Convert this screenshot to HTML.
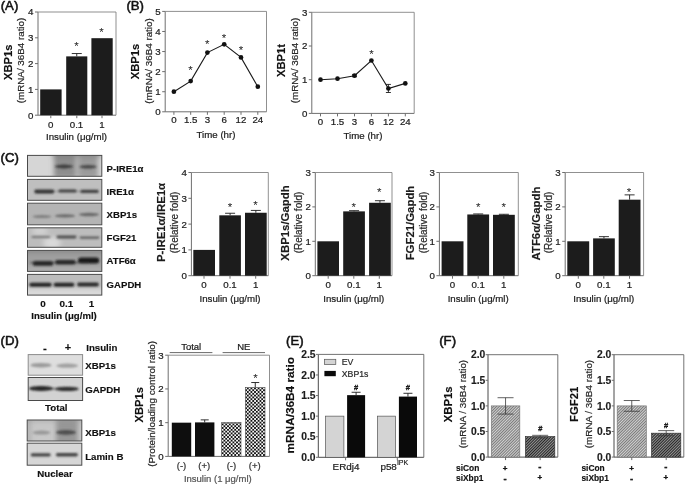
<!DOCTYPE html>
<html><head><meta charset="utf-8"><title>Figure</title>
<style>
html,body{margin:0;padding:0;background:#fff;}
body{width:685px;height:486px;overflow:hidden;font-family:"Liberation Sans",sans-serif;}
svg{display:block;font-family:"Liberation Sans",sans-serif;will-change:transform;opacity:0.9999;}
</style></head><body>
<svg width="685" height="486" viewBox="0 0 685 486">
<defs>
<filter id="blur1" x="-20%" y="-200%" width="140%" height="500%"><feGaussianBlur stdDeviation="1.1 0.8"/></filter>
<filter id="blur3" x="-50%" y="-50%" width="200%" height="200%"><feGaussianBlur stdDeviation="2.5"/></filter>
<pattern id="chk" width="3.6" height="3.6" patternUnits="userSpaceOnUse" x="0.3" y="0.5"><rect width="3.6" height="3.6" fill="#fff"/><rect width="1.85" height="1.85" fill="#111"/><rect x="1.8" y="1.8" width="1.85" height="1.85" fill="#111"/></pattern>
<pattern id="h1" width="2" height="2" patternUnits="userSpaceOnUse" patternTransform="rotate(45)"><rect width="2" height="2" fill="#d2d2d2"/><rect width="1" height="2" fill="#7a7a7a"/></pattern>
<pattern id="h2" width="2" height="2" patternUnits="userSpaceOnUse" patternTransform="rotate(45)"><rect width="2" height="2" fill="#939393"/><rect width="1" height="2" fill="#262626"/></pattern>
</defs>
<rect width="685" height="486" fill="#fff"/>

<text x="0.7" y="10.0" font-size="13.2" font-weight="normal" text-anchor="start" fill="#111" stroke="#111" stroke-width="0.55" stroke-linejoin="round">(A)</text>
<line x1="38" y1="12" x2="38" y2="115.2" stroke="#6e6e6e" stroke-width="1"/>
<line x1="38" y1="115.2" x2="116" y2="115.2" stroke="#6e6e6e" stroke-width="1"/>
<line x1="38" y1="12" x2="116" y2="12" stroke="#7c7c7c" stroke-width="0.85"/>
<line x1="116" y1="12" x2="116" y2="115.2" stroke="#7c7c7c" stroke-width="0.85"/>
<line x1="35" y1="115.2" x2="38" y2="115.2" stroke="#6e6e6e" stroke-width="1"/>
<text x="33.5" y="118.69200000000001" font-size="9.7" font-weight="normal" text-anchor="end" fill="#1c1c1c" stroke="#1c1c1c" stroke-width="0.22">0</text>
<line x1="35" y1="89.4" x2="38" y2="89.4" stroke="#6e6e6e" stroke-width="1"/>
<text x="33.5" y="92.89200000000001" font-size="9.7" font-weight="normal" text-anchor="end" fill="#1c1c1c" stroke="#1c1c1c" stroke-width="0.22">1</text>
<line x1="35" y1="63.6" x2="38" y2="63.6" stroke="#6e6e6e" stroke-width="1"/>
<text x="33.5" y="67.092" font-size="9.7" font-weight="normal" text-anchor="end" fill="#1c1c1c" stroke="#1c1c1c" stroke-width="0.22">2</text>
<line x1="35" y1="37.8" x2="38" y2="37.8" stroke="#6e6e6e" stroke-width="1"/>
<text x="33.5" y="41.291999999999994" font-size="9.7" font-weight="normal" text-anchor="end" fill="#1c1c1c" stroke="#1c1c1c" stroke-width="0.22">3</text>
<line x1="35" y1="12.0" x2="38" y2="12.0" stroke="#6e6e6e" stroke-width="1"/>
<text x="33.5" y="15.491999999999999" font-size="9.7" font-weight="normal" text-anchor="end" fill="#1c1c1c" stroke="#1c1c1c" stroke-width="0.22">4</text>
<rect x="40.20" y="89.40" width="21.40" height="25.80" fill="#1c1c1c" stroke="none" stroke-width="0"/>
<line x1="76.75" y1="53.53800000000001" x2="76.75" y2="56.376000000000005" stroke="#1c1c1c" stroke-width="0.9"/>
<line x1="71.75" y1="53.53800000000001" x2="81.75" y2="53.53800000000001" stroke="#1c1c1c" stroke-width="0.9"/>
<rect x="66.20" y="56.38" width="21.10" height="58.82" fill="#1c1c1c" stroke="none" stroke-width="0"/>
<rect x="91.40" y="38.19" width="21.30" height="77.01" fill="#1c1c1c" stroke="none" stroke-width="0"/>
<line x1="50.8" y1="115.2" x2="50.8" y2="118.2" stroke="#6e6e6e" stroke-width="1"/>
<line x1="76.8" y1="115.2" x2="76.8" y2="118.2" stroke="#6e6e6e" stroke-width="1"/>
<line x1="102" y1="115.2" x2="102" y2="118.2" stroke="#6e6e6e" stroke-width="1"/>
<text x="50.8" y="127.5" font-size="9.7" font-weight="normal" text-anchor="middle" fill="#1c1c1c" stroke="#1c1c1c" stroke-width="0.22">0</text>
<text x="76.5" y="127.5" font-size="9.7" font-weight="normal" text-anchor="middle" fill="#1c1c1c" stroke="#1c1c1c" stroke-width="0.22">0.1</text>
<text x="102" y="127.5" font-size="9.7" font-weight="normal" text-anchor="middle" fill="#1c1c1c" stroke="#1c1c1c" stroke-width="0.22">1</text>
<text x="76.5" y="140.3" font-size="9.7" font-weight="normal" text-anchor="middle" fill="#1c1c1c" stroke="#1c1c1c" stroke-width="0.22">Insulin (μg/ml)</text>
<text x="76.6" y="50.1275" font-size="11.5" font-weight="normal" text-anchor="middle" fill="#222" stroke="none">*</text>
<text x="101.6" y="35.6275" font-size="11.5" font-weight="normal" text-anchor="middle" fill="#222" stroke="none">*</text>
<text x="12.2" y="62.3" font-size="11.2" font-weight="bold" text-anchor="middle" fill="#111" transform="rotate(-90 12.2 62.3)" stroke="#111" stroke-width="0.15">XBP1s</text>
<text x="24.4" y="60.5" font-size="9.8" font-weight="normal" text-anchor="middle" fill="#2a2a2a" transform="rotate(-90 24.4 60.5)" stroke="#2a2a2a" stroke-width="0.22">(mRNA/ 36B4 ratio)</text>
<text x="126.4" y="10.0" font-size="13.2" font-weight="normal" text-anchor="start" fill="#111" stroke="#111" stroke-width="0.55" stroke-linejoin="round">(B)</text>
<line x1="165.2" y1="11.4" x2="165.2" y2="111.8" stroke="#6e6e6e" stroke-width="1"/>
<line x1="165.2" y1="111.8" x2="266.5" y2="111.8" stroke="#6e6e6e" stroke-width="1"/>
<line x1="165.2" y1="11.4" x2="266.5" y2="11.4" stroke="#7c7c7c" stroke-width="0.85"/>
<line x1="266.5" y1="11.4" x2="266.5" y2="111.8" stroke="#7c7c7c" stroke-width="0.85"/>
<line x1="162.2" y1="111.8" x2="165.2" y2="111.8" stroke="#6e6e6e" stroke-width="1"/>
<text x="160.7" y="115.292" font-size="9.7" font-weight="normal" text-anchor="end" fill="#1c1c1c" stroke="#1c1c1c" stroke-width="0.22">0</text>
<line x1="162.2" y1="91.72" x2="165.2" y2="91.72" stroke="#6e6e6e" stroke-width="1"/>
<text x="160.7" y="95.212" font-size="9.7" font-weight="normal" text-anchor="end" fill="#1c1c1c" stroke="#1c1c1c" stroke-width="0.22">1</text>
<line x1="162.2" y1="71.64" x2="165.2" y2="71.64" stroke="#6e6e6e" stroke-width="1"/>
<text x="160.7" y="75.132" font-size="9.7" font-weight="normal" text-anchor="end" fill="#1c1c1c" stroke="#1c1c1c" stroke-width="0.22">2</text>
<line x1="162.2" y1="51.56" x2="165.2" y2="51.56" stroke="#6e6e6e" stroke-width="1"/>
<text x="160.7" y="55.052" font-size="9.7" font-weight="normal" text-anchor="end" fill="#1c1c1c" stroke="#1c1c1c" stroke-width="0.22">3</text>
<line x1="162.2" y1="31.480000000000004" x2="165.2" y2="31.480000000000004" stroke="#6e6e6e" stroke-width="1"/>
<text x="160.7" y="34.972" font-size="9.7" font-weight="normal" text-anchor="end" fill="#1c1c1c" stroke="#1c1c1c" stroke-width="0.22">4</text>
<line x1="162.2" y1="11.400000000000006" x2="165.2" y2="11.400000000000006" stroke="#6e6e6e" stroke-width="1"/>
<text x="160.7" y="14.892000000000005" font-size="9.7" font-weight="normal" text-anchor="end" fill="#1c1c1c" stroke="#1c1c1c" stroke-width="0.22">5</text>
<polyline fill="none" stroke="#1a1a1a" stroke-width="1.1" points="173.9,91.7 190.7,81.1 207.4,52.6 224.2,44.3 241.0,57.4 257.8,86.7"/>
<circle cx="173.9" cy="91.7" r="2.35" fill="#111"/>
<circle cx="190.7" cy="81.1" r="2.35" fill="#111"/>
<circle cx="207.4" cy="52.6" r="2.35" fill="#111"/>
<circle cx="224.2" cy="44.3" r="2.35" fill="#111"/>
<circle cx="241.0" cy="57.4" r="2.35" fill="#111"/>
<circle cx="257.8" cy="86.7" r="2.35" fill="#111"/>
<line x1="173.9" y1="111.8" x2="173.9" y2="114.8" stroke="#6e6e6e" stroke-width="1"/>
<text x="173.9" y="123.2" font-size="9.7" font-weight="normal" text-anchor="middle" fill="#1c1c1c" stroke="#1c1c1c" stroke-width="0.22">0</text>
<line x1="190.7" y1="111.8" x2="190.7" y2="114.8" stroke="#6e6e6e" stroke-width="1"/>
<text x="190.7" y="123.2" font-size="9.7" font-weight="normal" text-anchor="middle" fill="#1c1c1c" stroke="#1c1c1c" stroke-width="0.22">1.5</text>
<line x1="207.4" y1="111.8" x2="207.4" y2="114.8" stroke="#6e6e6e" stroke-width="1"/>
<text x="207.4" y="123.2" font-size="9.7" font-weight="normal" text-anchor="middle" fill="#1c1c1c" stroke="#1c1c1c" stroke-width="0.22">3</text>
<line x1="224.2" y1="111.8" x2="224.2" y2="114.8" stroke="#6e6e6e" stroke-width="1"/>
<text x="224.2" y="123.2" font-size="9.7" font-weight="normal" text-anchor="middle" fill="#1c1c1c" stroke="#1c1c1c" stroke-width="0.22">6</text>
<line x1="241.0" y1="111.8" x2="241.0" y2="114.8" stroke="#6e6e6e" stroke-width="1"/>
<text x="241.0" y="123.2" font-size="9.7" font-weight="normal" text-anchor="middle" fill="#1c1c1c" stroke="#1c1c1c" stroke-width="0.22">12</text>
<line x1="257.8" y1="111.8" x2="257.8" y2="114.8" stroke="#6e6e6e" stroke-width="1"/>
<text x="257.8" y="123.2" font-size="9.7" font-weight="normal" text-anchor="middle" fill="#1c1c1c" stroke="#1c1c1c" stroke-width="0.22">24</text>
<text x="216" y="137.5" font-size="9.7" font-weight="normal" text-anchor="middle" fill="#1c1c1c" stroke="#1c1c1c" stroke-width="0.22">Time (hr)</text>
<text x="190.6" y="73.92750000000001" font-size="11.5" font-weight="normal" text-anchor="middle" fill="#222" stroke="none">*</text>
<text x="207.2" y="47.7275" font-size="11.5" font-weight="normal" text-anchor="middle" fill="#222" stroke="none">*</text>
<text x="224.1" y="42.3275" font-size="11.5" font-weight="normal" text-anchor="middle" fill="#222" stroke="none">*</text>
<text x="241.1" y="53.527499999999996" font-size="11.5" font-weight="normal" text-anchor="middle" fill="#222" stroke="none">*</text>
<text x="139" y="61.5" font-size="11.2" font-weight="bold" text-anchor="middle" fill="#111" transform="rotate(-90 139 61.5)" stroke="#111" stroke-width="0.15">XBP1s</text>
<text x="152" y="61" font-size="9.8" font-weight="normal" text-anchor="middle" fill="#2a2a2a" transform="rotate(-90 152 61)" stroke="#2a2a2a" stroke-width="0.22">(mRNA/ 36B4 ratio)</text>
<line x1="311.8" y1="12.3" x2="311.8" y2="113.4" stroke="#6e6e6e" stroke-width="1"/>
<line x1="311.8" y1="113.4" x2="414.2" y2="113.4" stroke="#6e6e6e" stroke-width="1"/>
<line x1="311.8" y1="12.3" x2="414.2" y2="12.3" stroke="#7c7c7c" stroke-width="0.85"/>
<line x1="414.2" y1="12.3" x2="414.2" y2="113.4" stroke="#7c7c7c" stroke-width="0.85"/>
<line x1="308.8" y1="113.4" x2="311.8" y2="113.4" stroke="#6e6e6e" stroke-width="1"/>
<text x="307.3" y="116.89200000000001" font-size="9.7" font-weight="normal" text-anchor="end" fill="#1c1c1c" stroke="#1c1c1c" stroke-width="0.22">0</text>
<line x1="308.8" y1="79.7" x2="311.8" y2="79.7" stroke="#6e6e6e" stroke-width="1"/>
<text x="307.3" y="83.19200000000001" font-size="9.7" font-weight="normal" text-anchor="end" fill="#1c1c1c" stroke="#1c1c1c" stroke-width="0.22">1</text>
<line x1="308.8" y1="46.0" x2="311.8" y2="46.0" stroke="#6e6e6e" stroke-width="1"/>
<text x="307.3" y="49.492" font-size="9.7" font-weight="normal" text-anchor="end" fill="#1c1c1c" stroke="#1c1c1c" stroke-width="0.22">2</text>
<line x1="308.8" y1="12.299999999999997" x2="311.8" y2="12.299999999999997" stroke="#6e6e6e" stroke-width="1"/>
<text x="307.3" y="15.791999999999996" font-size="9.7" font-weight="normal" text-anchor="end" fill="#1c1c1c" stroke="#1c1c1c" stroke-width="0.22">3</text>
<polyline fill="none" stroke="#1a1a1a" stroke-width="1.1" points="320.5,79.7 337.5,78.7 354.5,75.7 371.4,60.5 388.4,88.5 405.3,83.4"/>
<line x1="388.4" y1="84.418" x2="388.4" y2="92.506" stroke="#1c1c1c" stroke-width="0.9"/>
<line x1="385.9" y1="84.418" x2="390.9" y2="84.418" stroke="#1c1c1c" stroke-width="0.9"/>
<line x1="385.9" y1="92.506" x2="390.9" y2="92.506" stroke="#1c1c1c" stroke-width="0.9"/>
<line x1="354.5" y1="74.64500000000001" x2="354.5" y2="76.667" stroke="#1c1c1c" stroke-width="0.9"/>
<line x1="352.0" y1="74.64500000000001" x2="357.0" y2="74.64500000000001" stroke="#1c1c1c" stroke-width="0.9"/>
<line x1="352.0" y1="76.667" x2="357.0" y2="76.667" stroke="#1c1c1c" stroke-width="0.9"/>
<circle cx="320.5" cy="79.7" r="2.35" fill="#111"/>
<circle cx="337.5" cy="78.7" r="2.35" fill="#111"/>
<circle cx="354.5" cy="75.7" r="2.35" fill="#111"/>
<circle cx="371.4" cy="60.5" r="2.35" fill="#111"/>
<circle cx="388.4" cy="88.5" r="2.35" fill="#111"/>
<circle cx="405.3" cy="83.4" r="2.35" fill="#111"/>
<line x1="320.5" y1="113.4" x2="320.5" y2="116.4" stroke="#6e6e6e" stroke-width="1"/>
<text x="320.5" y="125" font-size="9.7" font-weight="normal" text-anchor="middle" fill="#1c1c1c" stroke="#1c1c1c" stroke-width="0.22">0</text>
<line x1="337.5" y1="113.4" x2="337.5" y2="116.4" stroke="#6e6e6e" stroke-width="1"/>
<text x="337.5" y="125" font-size="9.7" font-weight="normal" text-anchor="middle" fill="#1c1c1c" stroke="#1c1c1c" stroke-width="0.22">1.5</text>
<line x1="354.5" y1="113.4" x2="354.5" y2="116.4" stroke="#6e6e6e" stroke-width="1"/>
<text x="354.5" y="125" font-size="9.7" font-weight="normal" text-anchor="middle" fill="#1c1c1c" stroke="#1c1c1c" stroke-width="0.22">3</text>
<line x1="371.4" y1="113.4" x2="371.4" y2="116.4" stroke="#6e6e6e" stroke-width="1"/>
<text x="371.4" y="125" font-size="9.7" font-weight="normal" text-anchor="middle" fill="#1c1c1c" stroke="#1c1c1c" stroke-width="0.22">6</text>
<line x1="388.4" y1="113.4" x2="388.4" y2="116.4" stroke="#6e6e6e" stroke-width="1"/>
<text x="388.4" y="125" font-size="9.7" font-weight="normal" text-anchor="middle" fill="#1c1c1c" stroke="#1c1c1c" stroke-width="0.22">12</text>
<line x1="405.3" y1="113.4" x2="405.3" y2="116.4" stroke="#6e6e6e" stroke-width="1"/>
<text x="405.3" y="125" font-size="9.7" font-weight="normal" text-anchor="middle" fill="#1c1c1c" stroke="#1c1c1c" stroke-width="0.22">24</text>
<text x="363" y="139.2" font-size="9.7" font-weight="normal" text-anchor="middle" fill="#1c1c1c" stroke="#1c1c1c" stroke-width="0.22">Time (hr)</text>
<text x="371.4" y="58.3275" font-size="11.5" font-weight="normal" text-anchor="middle" fill="#222" stroke="none">*</text>
<text x="284.5" y="60.5" font-size="11.2" font-weight="bold" text-anchor="middle" fill="#111" transform="rotate(-90 284.5 60.5)" stroke="#111" stroke-width="0.15">XBP1t</text>
<text x="297.5" y="60.5" font-size="9.8" font-weight="normal" text-anchor="middle" fill="#2a2a2a" transform="rotate(-90 297.5 60.5)" stroke="#2a2a2a" stroke-width="0.22">(mRNA/ 36B4 ratio)</text>
<text x="0.5" y="162.3" font-size="13.2" font-weight="normal" text-anchor="start" fill="#111" stroke="#111" stroke-width="0.55" stroke-linejoin="round">(C)</text>
<clipPath id="cp1"><rect x="27.5" y="155.4" width="74.3" height="20.9"/></clipPath>
<g clip-path="url(#cp1)">
<rect x="27.5" y="155.4" width="74.3" height="20.9" fill="#d6d6d6"/>
<g filter="url(#blur3)"><rect x="54" y="148" width="22" height="30" fill="#858585" opacity="0.9"/><rect x="78" y="148" width="20" height="30" fill="#8f8f8f" opacity="0.85"/><rect x="52" y="150" width="50" height="7" fill="#777" opacity="0.5"/></g>
<g filter="url(#blur1)">
<ellipse cx="64" cy="166.5" rx="9" ry="1.9" fill="#333" opacity="0.85"/>
<ellipse cx="88" cy="166.7" rx="8.5" ry="1.8" fill="#333" opacity="0.8"/>
</g></g>
<rect x="27.5" y="155.4" width="74.3" height="20.9" fill="none" stroke="#4a4a4a" stroke-width="1"/>
<clipPath id="cp2"><rect x="27.5" y="179.4" width="74.3" height="20.9"/></clipPath>
<g clip-path="url(#cp2)">
<rect x="27.5" y="179.4" width="74.3" height="20.9" fill="#bfbfbf"/>

<g filter="url(#blur1)">
<rect x="34.3" y="189.4" width="20" height="4.2" rx="2.1" ry="2.1" fill="#222" opacity="0.93"/>
<rect x="58.3" y="189.5" width="18.4" height="3.0" rx="1.5" ry="1.5" fill="#2a2a2a" opacity="0.88"/>
<rect x="80.3" y="189.8" width="18.4" height="3.2" rx="1.6" ry="1.6" fill="#2a2a2a" opacity="0.88"/>
<rect x="36" y="190.70000000000002" width="60" height="1.2" rx="0.6" ry="0.6" fill="#555" opacity="0.4"/>
</g></g>
<rect x="27.5" y="179.4" width="74.3" height="20.9" fill="none" stroke="#4a4a4a" stroke-width="1"/>
<clipPath id="cp3"><rect x="27.5" y="203.2" width="74.3" height="21.6"/></clipPath>
<g clip-path="url(#cp3)">
<rect x="27.5" y="203.2" width="74.3" height="21.6" fill="#b4b4b4"/>

<g filter="url(#blur1)">
<ellipse cx="42" cy="216.6" rx="9.5" ry="1.5" fill="#5a5a5a" opacity="0.6"/>
<ellipse cx="65" cy="215.9" rx="10" ry="1.7" fill="#4a4a4a" opacity="0.7"/>
<ellipse cx="89" cy="214.5" rx="10" ry="1.8" fill="#4a4a4a" opacity="0.7"/>
</g></g>
<rect x="27.5" y="203.2" width="74.3" height="21.6" fill="none" stroke="#4a4a4a" stroke-width="1"/>
<clipPath id="cp4"><rect x="27.5" y="227.8" width="74.3" height="19.5"/></clipPath>
<g clip-path="url(#cp4)">
<rect x="27.5" y="227.8" width="74.3" height="19.5" fill="#bdbdbd"/>
<g filter="url(#blur3)"><ellipse cx="52" cy="243" rx="9" ry="6" fill="#e2e2e2" opacity="0.8"/><ellipse cx="40" cy="231" rx="8" ry="4" fill="#ddd" opacity="0.7"/></g>
<g filter="url(#blur1)">
<rect x="31.5" y="235.9" width="19.0" height="2.2" rx="1.1" ry="1.1" fill="#555" opacity="0.7"/>
<rect x="56.5" y="235.6" width="20" height="2.8" rx="1.4" ry="1.4" fill="#333" opacity="0.8"/>
<rect x="79.7" y="236.4" width="19.6" height="2.4" rx="1.2" ry="1.2" fill="#3a3a3a" opacity="0.75"/>
</g></g>
<rect x="27.5" y="227.8" width="74.3" height="19.5" fill="none" stroke="#4a4a4a" stroke-width="1"/>
<clipPath id="cp5"><rect x="27.5" y="250.4" width="74.3" height="21"/></clipPath>
<g clip-path="url(#cp5)">
<rect x="27.5" y="250.4" width="74.3" height="21" fill="#a0a0a0"/>
<g filter="url(#blur3)"><rect x="20" y="247" width="90" height="6" fill="#808080" opacity="0.7"/><rect x="20" y="267" width="90" height="8" fill="#b4b4b4" opacity="0.7"/></g>
<g filter="url(#blur1)">
<rect x="32.8" y="261.09999999999997" width="20.4" height="4.6" rx="2.3" ry="2.3" fill="#1a1a1a" opacity="0.95"/>
<rect x="55.2" y="259.9" width="20.4" height="4.6" rx="2.3" ry="2.3" fill="#1a1a1a" opacity="0.95"/>
<rect x="78.0" y="257.4" width="21.2" height="6.0" rx="3.0" ry="3.0" fill="#161616" opacity="0.97"/>
<rect x="30" y="261.70000000000005" width="60" height="1.8" rx="0.9" ry="0.9" fill="#333" opacity="0.6"/>
</g></g>
<rect x="27.5" y="250.4" width="74.3" height="21" fill="none" stroke="#4a4a4a" stroke-width="1"/>
<clipPath id="cp6"><rect x="27.5" y="274.4" width="74.3" height="20.7"/></clipPath>
<g clip-path="url(#cp6)">
<rect x="27.5" y="274.4" width="74.3" height="20.7" fill="#bdbdbd"/>
<g filter="url(#blur3)"><rect x="20" y="288.5" width="90" height="10" fill="#dedede" opacity="0.9"/></g>
<g filter="url(#blur1)">
<rect x="29.3" y="282.8" width="22.4" height="4.0" rx="2.0" ry="2.0" fill="#1f1f1f" opacity="0.95"/>
<rect x="53.6" y="282.8" width="20.8" height="4.0" rx="2.0" ry="2.0" fill="#1f1f1f" opacity="0.95"/>
<rect x="77.2" y="282.6" width="21.6" height="3.8" rx="1.9" ry="1.9" fill="#222" opacity="0.95"/>
</g></g>
<rect x="27.5" y="274.4" width="74.3" height="20.7" fill="none" stroke="#4a4a4a" stroke-width="1"/>
<text x="106.6" y="171.9" font-size="9.6" font-weight="bold" text-anchor="start" fill="#111" stroke="#111" stroke-width="0.15">P-IRE1α</text>
<text x="106.6" y="195.3" font-size="9.6" font-weight="bold" text-anchor="start" fill="#111" stroke="#111" stroke-width="0.15">IRE1α</text>
<text x="106.6" y="218.4" font-size="9.6" font-weight="bold" text-anchor="start" fill="#111" stroke="#111" stroke-width="0.15">XBP1s</text>
<text x="106.6" y="241.4" font-size="9.6" font-weight="bold" text-anchor="start" fill="#111" stroke="#111" stroke-width="0.15">FGF21</text>
<text x="106.6" y="264.4" font-size="9.6" font-weight="bold" text-anchor="start" fill="#111" stroke="#111" stroke-width="0.15">ATF6α</text>
<text x="106.6" y="287.6" font-size="9.6" font-weight="bold" text-anchor="start" fill="#111" stroke="#111" stroke-width="0.15">GAPDH</text>
<text x="43" y="307.4" font-size="9.9" font-weight="bold" text-anchor="middle" fill="#111" stroke="#111" stroke-width="0.15">0</text>
<text x="66.3" y="307.4" font-size="9.9" font-weight="bold" text-anchor="middle" fill="#111" stroke="#111" stroke-width="0.15">0.1</text>
<text x="91.5" y="307.4" font-size="9.9" font-weight="bold" text-anchor="middle" fill="#111" stroke="#111" stroke-width="0.15">1</text>
<text x="64" y="319" font-size="9.6" font-weight="bold" text-anchor="middle" fill="#111" stroke="#111" stroke-width="0.15">Insulin (μg/ml)</text>
<line x1="191.4" y1="172.5" x2="191.4" y2="275.7" stroke="#6e6e6e" stroke-width="1"/>
<line x1="191.4" y1="275.7" x2="268.3" y2="275.7" stroke="#6e6e6e" stroke-width="1"/>
<line x1="191.4" y1="172.5" x2="268.3" y2="172.5" stroke="#7c7c7c" stroke-width="0.85"/>
<line x1="268.3" y1="172.5" x2="268.3" y2="275.7" stroke="#7c7c7c" stroke-width="0.85"/>
<line x1="188.4" y1="275.7" x2="191.4" y2="275.7" stroke="#6e6e6e" stroke-width="1"/>
<text x="186.9" y="279.192" font-size="9.7" font-weight="normal" text-anchor="end" fill="#1c1c1c" stroke="#1c1c1c" stroke-width="0.22">0</text>
<line x1="188.4" y1="249.89999999999998" x2="191.4" y2="249.89999999999998" stroke="#6e6e6e" stroke-width="1"/>
<text x="186.9" y="253.39199999999997" font-size="9.7" font-weight="normal" text-anchor="end" fill="#1c1c1c" stroke="#1c1c1c" stroke-width="0.22">1</text>
<line x1="188.4" y1="224.1" x2="191.4" y2="224.1" stroke="#6e6e6e" stroke-width="1"/>
<text x="186.9" y="227.59199999999998" font-size="9.7" font-weight="normal" text-anchor="end" fill="#1c1c1c" stroke="#1c1c1c" stroke-width="0.22">2</text>
<line x1="188.4" y1="198.3" x2="191.4" y2="198.3" stroke="#6e6e6e" stroke-width="1"/>
<text x="186.9" y="201.792" font-size="9.7" font-weight="normal" text-anchor="end" fill="#1c1c1c" stroke="#1c1c1c" stroke-width="0.22">3</text>
<line x1="188.4" y1="172.5" x2="191.4" y2="172.5" stroke="#6e6e6e" stroke-width="1"/>
<text x="186.9" y="175.992" font-size="9.7" font-weight="normal" text-anchor="end" fill="#1c1c1c" stroke="#1c1c1c" stroke-width="0.22">4</text>
<rect x="193.30" y="249.90" width="21.70" height="25.80" fill="#1c1c1c" stroke="none" stroke-width="0"/>
<line x1="230.10000000000002" y1="213.264" x2="230.10000000000002" y2="215.328" stroke="#1c1c1c" stroke-width="0.9"/>
<line x1="225.10000000000002" y1="213.264" x2="235.10000000000002" y2="213.264" stroke="#1c1c1c" stroke-width="0.9"/>
<rect x="219.30" y="215.33" width="21.60" height="60.37" fill="#1c1c1c" stroke="none" stroke-width="0"/>
<line x1="255.85" y1="210.426" x2="255.85" y2="212.748" stroke="#1c1c1c" stroke-width="0.9"/>
<line x1="250.85" y1="210.426" x2="260.85" y2="210.426" stroke="#1c1c1c" stroke-width="0.9"/>
<rect x="245.00" y="212.75" width="21.70" height="62.95" fill="#1c1c1c" stroke="none" stroke-width="0"/>
<line x1="204" y1="275.7" x2="204" y2="278.7" stroke="#6e6e6e" stroke-width="1"/>
<text x="204" y="287.9" font-size="9.7" font-weight="normal" text-anchor="middle" fill="#1c1c1c" stroke="#1c1c1c" stroke-width="0.22">0</text>
<line x1="230" y1="275.7" x2="230" y2="278.7" stroke="#6e6e6e" stroke-width="1"/>
<text x="230" y="287.9" font-size="9.7" font-weight="normal" text-anchor="middle" fill="#1c1c1c" stroke="#1c1c1c" stroke-width="0.22">0.1</text>
<line x1="255.7" y1="275.7" x2="255.7" y2="278.7" stroke="#6e6e6e" stroke-width="1"/>
<text x="255.7" y="287.9" font-size="9.7" font-weight="normal" text-anchor="middle" fill="#1c1c1c" stroke="#1c1c1c" stroke-width="0.22">1</text>
<text x="230" y="301.6" font-size="9.7" font-weight="normal" text-anchor="middle" fill="#1c1c1c" stroke="#1c1c1c" stroke-width="0.22">Insulin (μg/ml)</text>
<text x="230" y="210.7275" font-size="11.5" font-weight="normal" text-anchor="middle" fill="#222" stroke="none">*</text>
<text x="255.6" y="208.7275" font-size="11.5" font-weight="normal" text-anchor="middle" fill="#222" stroke="none">*</text>
<text x="165.4" y="222.5" font-size="11.4" font-weight="bold" text-anchor="middle" fill="#1c1c1c" transform="rotate(-90 165.4 222.5)" stroke="#1c1c1c" stroke-width="0.15">P-IRE1α/IRE1α</text>
<text x="177.6" y="222.5" font-size="10" font-weight="normal" text-anchor="middle" fill="#2a2a2a" transform="rotate(-90 177.6 222.5)" stroke="#2a2a2a" stroke-width="0.22">(Relative fold)</text>
<line x1="315.3" y1="172.5" x2="315.3" y2="275.7" stroke="#6e6e6e" stroke-width="1"/>
<line x1="315.3" y1="275.7" x2="392.0" y2="275.7" stroke="#6e6e6e" stroke-width="1"/>
<line x1="315.3" y1="172.5" x2="392.0" y2="172.5" stroke="#7c7c7c" stroke-width="0.85"/>
<line x1="392.0" y1="172.5" x2="392.0" y2="275.7" stroke="#7c7c7c" stroke-width="0.85"/>
<line x1="312.3" y1="275.7" x2="315.3" y2="275.7" stroke="#6e6e6e" stroke-width="1"/>
<text x="310.8" y="279.192" font-size="9.7" font-weight="normal" text-anchor="end" fill="#1c1c1c" stroke="#1c1c1c" stroke-width="0.22">0</text>
<line x1="312.3" y1="241.29999999999998" x2="315.3" y2="241.29999999999998" stroke="#6e6e6e" stroke-width="1"/>
<text x="310.8" y="244.79199999999997" font-size="9.7" font-weight="normal" text-anchor="end" fill="#1c1c1c" stroke="#1c1c1c" stroke-width="0.22">1</text>
<line x1="312.3" y1="206.89999999999998" x2="315.3" y2="206.89999999999998" stroke="#6e6e6e" stroke-width="1"/>
<text x="310.8" y="210.39199999999997" font-size="9.7" font-weight="normal" text-anchor="end" fill="#1c1c1c" stroke="#1c1c1c" stroke-width="0.22">2</text>
<line x1="312.3" y1="172.5" x2="315.3" y2="172.5" stroke="#6e6e6e" stroke-width="1"/>
<text x="310.8" y="175.992" font-size="9.7" font-weight="normal" text-anchor="end" fill="#1c1c1c" stroke="#1c1c1c" stroke-width="0.22">3</text>
<rect x="317.40" y="241.30" width="21.60" height="34.40" fill="#1c1c1c" stroke="none" stroke-width="0"/>
<line x1="354.04999999999995" y1="210.68399999999997" x2="354.04999999999995" y2="211.37199999999999" stroke="#1c1c1c" stroke-width="0.9"/>
<line x1="349.04999999999995" y1="210.68399999999997" x2="359.04999999999995" y2="210.68399999999997" stroke="#1c1c1c" stroke-width="0.9"/>
<rect x="343.20" y="211.37" width="21.70" height="64.33" fill="#1c1c1c" stroke="none" stroke-width="0"/>
<line x1="379.95000000000005" y1="200.70799999999997" x2="379.95000000000005" y2="202.772" stroke="#1c1c1c" stroke-width="0.9"/>
<line x1="374.95000000000005" y1="200.70799999999997" x2="384.95000000000005" y2="200.70799999999997" stroke="#1c1c1c" stroke-width="0.9"/>
<rect x="369.10" y="202.77" width="21.70" height="72.93" fill="#1c1c1c" stroke="none" stroke-width="0"/>
<line x1="328.2" y1="275.7" x2="328.2" y2="278.7" stroke="#6e6e6e" stroke-width="1"/>
<text x="328.2" y="287.9" font-size="9.7" font-weight="normal" text-anchor="middle" fill="#1c1c1c" stroke="#1c1c1c" stroke-width="0.22">0</text>
<line x1="353.8" y1="275.7" x2="353.8" y2="278.7" stroke="#6e6e6e" stroke-width="1"/>
<text x="353.8" y="287.9" font-size="9.7" font-weight="normal" text-anchor="middle" fill="#1c1c1c" stroke="#1c1c1c" stroke-width="0.22">0.1</text>
<line x1="379.3" y1="275.7" x2="379.3" y2="278.7" stroke="#6e6e6e" stroke-width="1"/>
<text x="379.3" y="287.9" font-size="9.7" font-weight="normal" text-anchor="middle" fill="#1c1c1c" stroke="#1c1c1c" stroke-width="0.22">1</text>
<text x="353.8" y="301.6" font-size="9.7" font-weight="normal" text-anchor="middle" fill="#1c1c1c" stroke="#1c1c1c" stroke-width="0.22">Insulin (μg/ml)</text>
<text x="353.8" y="210.7275" font-size="11.5" font-weight="normal" text-anchor="middle" fill="#222" stroke="none">*</text>
<text x="379.2" y="196.1275" font-size="11.5" font-weight="normal" text-anchor="middle" fill="#222" stroke="none">*</text>
<text x="288.5" y="223" font-size="11.4" font-weight="bold" text-anchor="middle" fill="#1c1c1c" transform="rotate(-90 288.5 223)" stroke="#1c1c1c" stroke-width="0.15">XBP1s/Gapdh</text>
<text x="301.6" y="222.5" font-size="10" font-weight="normal" text-anchor="middle" fill="#2a2a2a" transform="rotate(-90 301.6 222.5)" stroke="#2a2a2a" stroke-width="0.22">(Relative fold)</text>
<line x1="439.4" y1="172.5" x2="439.4" y2="275.7" stroke="#6e6e6e" stroke-width="1"/>
<line x1="439.4" y1="275.7" x2="518.3" y2="275.7" stroke="#6e6e6e" stroke-width="1"/>
<line x1="439.4" y1="172.5" x2="518.3" y2="172.5" stroke="#7c7c7c" stroke-width="0.85"/>
<line x1="518.3" y1="172.5" x2="518.3" y2="275.7" stroke="#7c7c7c" stroke-width="0.85"/>
<line x1="436.4" y1="275.7" x2="439.4" y2="275.7" stroke="#6e6e6e" stroke-width="1"/>
<text x="434.9" y="279.192" font-size="9.7" font-weight="normal" text-anchor="end" fill="#1c1c1c" stroke="#1c1c1c" stroke-width="0.22">0</text>
<line x1="436.4" y1="241.29999999999998" x2="439.4" y2="241.29999999999998" stroke="#6e6e6e" stroke-width="1"/>
<text x="434.9" y="244.79199999999997" font-size="9.7" font-weight="normal" text-anchor="end" fill="#1c1c1c" stroke="#1c1c1c" stroke-width="0.22">1</text>
<line x1="436.4" y1="206.89999999999998" x2="439.4" y2="206.89999999999998" stroke="#6e6e6e" stroke-width="1"/>
<text x="434.9" y="210.39199999999997" font-size="9.7" font-weight="normal" text-anchor="end" fill="#1c1c1c" stroke="#1c1c1c" stroke-width="0.22">2</text>
<line x1="436.4" y1="172.5" x2="439.4" y2="172.5" stroke="#6e6e6e" stroke-width="1"/>
<text x="434.9" y="175.992" font-size="9.7" font-weight="normal" text-anchor="end" fill="#1c1c1c" stroke="#1c1c1c" stroke-width="0.22">3</text>
<rect x="441.60" y="241.30" width="21.90" height="34.40" fill="#1c1c1c" stroke="none" stroke-width="0"/>
<line x1="478.20000000000005" y1="213.952" x2="478.20000000000005" y2="214.468" stroke="#1c1c1c" stroke-width="0.9"/>
<line x1="473.20000000000005" y1="213.952" x2="483.20000000000005" y2="213.952" stroke="#1c1c1c" stroke-width="0.9"/>
<rect x="467.30" y="214.47" width="21.80" height="61.23" fill="#1c1c1c" stroke="none" stroke-width="0"/>
<line x1="503.9" y1="214.296" x2="503.9" y2="214.81199999999998" stroke="#1c1c1c" stroke-width="0.9"/>
<line x1="498.9" y1="214.296" x2="508.9" y2="214.296" stroke="#1c1c1c" stroke-width="0.9"/>
<rect x="493.00" y="214.81" width="21.80" height="60.89" fill="#1c1c1c" stroke="none" stroke-width="0"/>
<line x1="452.5" y1="275.7" x2="452.5" y2="278.7" stroke="#6e6e6e" stroke-width="1"/>
<text x="452.5" y="287.9" font-size="9.7" font-weight="normal" text-anchor="middle" fill="#1c1c1c" stroke="#1c1c1c" stroke-width="0.22">0</text>
<line x1="478.2" y1="275.7" x2="478.2" y2="278.7" stroke="#6e6e6e" stroke-width="1"/>
<text x="478.2" y="287.9" font-size="9.7" font-weight="normal" text-anchor="middle" fill="#1c1c1c" stroke="#1c1c1c" stroke-width="0.22">0.1</text>
<line x1="503.8" y1="275.7" x2="503.8" y2="278.7" stroke="#6e6e6e" stroke-width="1"/>
<text x="503.8" y="287.9" font-size="9.7" font-weight="normal" text-anchor="middle" fill="#1c1c1c" stroke="#1c1c1c" stroke-width="0.22">1</text>
<text x="478.2" y="301.6" font-size="9.7" font-weight="normal" text-anchor="middle" fill="#1c1c1c" stroke="#1c1c1c" stroke-width="0.22">Insulin (μg/ml)</text>
<text x="478.2" y="210.7275" font-size="11.5" font-weight="normal" text-anchor="middle" fill="#222" stroke="none">*</text>
<text x="503.8" y="210.7275" font-size="11.5" font-weight="normal" text-anchor="middle" fill="#222" stroke="none">*</text>
<text x="414.3" y="223" font-size="11.4" font-weight="bold" text-anchor="middle" fill="#1c1c1c" transform="rotate(-90 414.3 223)" stroke="#1c1c1c" stroke-width="0.15">FGF21/Gapdh</text>
<text x="427.2" y="222.5" font-size="10" font-weight="normal" text-anchor="middle" fill="#2a2a2a" transform="rotate(-90 427.2 222.5)" stroke="#2a2a2a" stroke-width="0.22">(Relative fold)</text>
<line x1="565.2" y1="172.5" x2="565.2" y2="275.7" stroke="#6e6e6e" stroke-width="1"/>
<line x1="565.2" y1="275.7" x2="643.6" y2="275.7" stroke="#6e6e6e" stroke-width="1"/>
<line x1="565.2" y1="172.5" x2="643.6" y2="172.5" stroke="#7c7c7c" stroke-width="0.85"/>
<line x1="643.6" y1="172.5" x2="643.6" y2="275.7" stroke="#7c7c7c" stroke-width="0.85"/>
<line x1="562.2" y1="275.7" x2="565.2" y2="275.7" stroke="#6e6e6e" stroke-width="1"/>
<text x="560.7" y="279.192" font-size="9.7" font-weight="normal" text-anchor="end" fill="#1c1c1c" stroke="#1c1c1c" stroke-width="0.22">0</text>
<line x1="562.2" y1="241.29999999999998" x2="565.2" y2="241.29999999999998" stroke="#6e6e6e" stroke-width="1"/>
<text x="560.7" y="244.79199999999997" font-size="9.7" font-weight="normal" text-anchor="end" fill="#1c1c1c" stroke="#1c1c1c" stroke-width="0.22">1</text>
<line x1="562.2" y1="206.89999999999998" x2="565.2" y2="206.89999999999998" stroke="#6e6e6e" stroke-width="1"/>
<text x="560.7" y="210.39199999999997" font-size="9.7" font-weight="normal" text-anchor="end" fill="#1c1c1c" stroke="#1c1c1c" stroke-width="0.22">2</text>
<line x1="562.2" y1="172.5" x2="565.2" y2="172.5" stroke="#6e6e6e" stroke-width="1"/>
<text x="560.7" y="175.992" font-size="9.7" font-weight="normal" text-anchor="end" fill="#1c1c1c" stroke="#1c1c1c" stroke-width="0.22">3</text>
<rect x="567.30" y="241.30" width="21.90" height="34.40" fill="#1c1c1c" stroke="none" stroke-width="0"/>
<line x1="603.95" y1="236.656" x2="603.95" y2="238.37599999999998" stroke="#1c1c1c" stroke-width="0.9"/>
<line x1="598.95" y1="236.656" x2="608.95" y2="236.656" stroke="#1c1c1c" stroke-width="0.9"/>
<rect x="593.10" y="238.38" width="21.70" height="37.32" fill="#1c1c1c" stroke="none" stroke-width="0"/>
<line x1="629.6" y1="194.85999999999999" x2="629.6" y2="199.676" stroke="#1c1c1c" stroke-width="0.9"/>
<line x1="624.6" y1="194.85999999999999" x2="634.6" y2="194.85999999999999" stroke="#1c1c1c" stroke-width="0.9"/>
<rect x="618.70" y="199.68" width="21.80" height="76.02" fill="#1c1c1c" stroke="none" stroke-width="0"/>
<line x1="578.3" y1="275.7" x2="578.3" y2="278.7" stroke="#6e6e6e" stroke-width="1"/>
<text x="578.3" y="287.9" font-size="9.7" font-weight="normal" text-anchor="middle" fill="#1c1c1c" stroke="#1c1c1c" stroke-width="0.22">0</text>
<line x1="603.8" y1="275.7" x2="603.8" y2="278.7" stroke="#6e6e6e" stroke-width="1"/>
<text x="603.8" y="287.9" font-size="9.7" font-weight="normal" text-anchor="middle" fill="#1c1c1c" stroke="#1c1c1c" stroke-width="0.22">0.1</text>
<line x1="629.5" y1="275.7" x2="629.5" y2="278.7" stroke="#6e6e6e" stroke-width="1"/>
<text x="629.5" y="287.9" font-size="9.7" font-weight="normal" text-anchor="middle" fill="#1c1c1c" stroke="#1c1c1c" stroke-width="0.22">1</text>
<text x="603.8" y="301.6" font-size="9.7" font-weight="normal" text-anchor="middle" fill="#1c1c1c" stroke="#1c1c1c" stroke-width="0.22">Insulin (μg/ml)</text>
<text x="629" y="196.1275" font-size="11.5" font-weight="normal" text-anchor="middle" fill="#222" stroke="none">*</text>
<text x="539.8" y="223.5" font-size="11.4" font-weight="bold" text-anchor="middle" fill="#1c1c1c" transform="rotate(-90 539.8 223.5)" stroke="#1c1c1c" stroke-width="0.15">ATF6α/Gapdh</text>
<text x="552.4" y="222.5" font-size="10" font-weight="normal" text-anchor="middle" fill="#2a2a2a" transform="rotate(-90 552.4 222.5)" stroke="#2a2a2a" stroke-width="0.22">(Relative fold)</text>
<text x="0.5" y="345.2" font-size="13.2" font-weight="normal" text-anchor="start" fill="#111" stroke="#111" stroke-width="0.55" stroke-linejoin="round">(D)</text>
<text x="44.8" y="351.5" font-size="11.5" font-weight="bold" text-anchor="middle" fill="#111" stroke="#111" stroke-width="0.15">-</text>
<text x="68" y="351.2" font-size="11" font-weight="bold" text-anchor="middle" fill="#111" stroke="#111" stroke-width="0.15">+</text>
<text x="86.2" y="350.8" font-size="9.7" font-weight="bold" text-anchor="start" fill="#111" stroke="#111" stroke-width="0.15">Insulin</text>
<clipPath id="cp7"><rect x="28.2" y="354.6" width="54.4" height="20.6"/></clipPath>
<g clip-path="url(#cp7)">
<rect x="28.2" y="354.6" width="54.4" height="20.6" fill="#dedede"/>

<g filter="url(#blur1)">
<ellipse cx="41" cy="365.2" rx="10.5" ry="2.3" fill="#777" opacity="0.65"/>
<ellipse cx="67.2" cy="365.7" rx="11" ry="2.1" fill="#777" opacity="0.6"/>
</g></g>
<rect x="28.2" y="354.6" width="54.4" height="20.6" fill="none" stroke="#8a8a8a" stroke-width="1"/>
<clipPath id="cp8"><rect x="28.2" y="377.5" width="54.4" height="23"/></clipPath>
<g clip-path="url(#cp8)">
<rect x="28.2" y="377.5" width="54.4" height="23" fill="#d2d2d2"/>

<g filter="url(#blur1)">
<ellipse cx="41.1" cy="388.6" rx="12.2" ry="2.5" fill="#1c1c1c" opacity="0.97"/>
<ellipse cx="66.8" cy="388.9" rx="12" ry="2.2" fill="#222" opacity="0.95"/>
<rect x="34" y="388.0" width="40" height="1.6" rx="0.8" ry="0.8" fill="#333" opacity="0.6"/>
</g></g>
<rect x="28.2" y="377.5" width="54.4" height="23" fill="none" stroke="#4a4a4a" stroke-width="1"/>
<text x="56.3" y="410.9" font-size="9.7" font-weight="bold" text-anchor="middle" fill="#111" stroke="#111" stroke-width="0.15">Total</text>
<clipPath id="cp9"><rect x="27.2" y="420" width="54.6" height="21"/></clipPath>
<g clip-path="url(#cp9)">
<rect x="27.2" y="420" width="54.6" height="21" fill="#c8c8c8"/>
<g filter="url(#blur3)"><rect x="56" y="412" width="22" height="34" fill="#8e8e8e" opacity="0.85"/><rect x="26" y="415" width="5" height="30" fill="#999" opacity="0.5"/><rect x="20" y="416" width="70" height="6" fill="#999" opacity="0.45"/></g>
<g filter="url(#blur1)">
<ellipse cx="41.5" cy="432.6" rx="9" ry="2.0" fill="#6a6a6a" opacity="0.5"/>
<ellipse cx="66" cy="432.4" rx="10" ry="2.4" fill="#333" opacity="0.72"/>
</g></g>
<rect x="27.2" y="420" width="54.6" height="21" fill="none" stroke="#4a4a4a" stroke-width="1"/>
<clipPath id="cp10"><rect x="27.2" y="443.2" width="54.6" height="22"/></clipPath>
<g clip-path="url(#cp10)">
<rect x="27.2" y="443.2" width="54.6" height="22" fill="#d6d6d6"/>

<g filter="url(#blur1)">
<rect x="30.700000000000003" y="453.2" width="20" height="3.2" rx="1.6" ry="1.6" fill="#333" opacity="0.9"/>
<rect x="55.900000000000006" y="453.1" width="22" height="3.4" rx="1.7" ry="1.7" fill="#333" opacity="0.9"/>
</g></g>
<rect x="27.2" y="443.2" width="54.6" height="22" fill="none" stroke="#4a4a4a" stroke-width="1"/>
<text x="55" y="476.5" font-size="9.7" font-weight="bold" text-anchor="middle" fill="#111" stroke="#111" stroke-width="0.15">Nuclear</text>
<text x="85.2" y="369.2" font-size="9.7" font-weight="bold" text-anchor="start" fill="#111" stroke="#111" stroke-width="0.15">XBP1s</text>
<text x="85.2" y="392.6" font-size="9.7" font-weight="bold" text-anchor="start" fill="#111" stroke="#111" stroke-width="0.15">GAPDH</text>
<text x="85.2" y="436.2" font-size="9.7" font-weight="bold" text-anchor="start" fill="#111" stroke="#111" stroke-width="0.15">XBP1s</text>
<text x="85.2" y="459.7" font-size="9.7" font-weight="bold" text-anchor="start" fill="#111" stroke="#111" stroke-width="0.15">Lamin B</text>
<line x1="168.2" y1="355.2" x2="168.2" y2="456.4" stroke="#6e6e6e" stroke-width="1"/>
<line x1="168.2" y1="456.4" x2="269.5" y2="456.4" stroke="#6e6e6e" stroke-width="1"/>
<line x1="168.2" y1="355.2" x2="269.5" y2="355.2" stroke="#7c7c7c" stroke-width="0.85"/>
<line x1="269.5" y1="355.2" x2="269.5" y2="456.4" stroke="#7c7c7c" stroke-width="0.85"/>
<line x1="165.2" y1="456.4" x2="168.2" y2="456.4" stroke="#6e6e6e" stroke-width="1"/>
<text x="163.7" y="459.892" font-size="9.7" font-weight="normal" text-anchor="end" fill="#1c1c1c" stroke="#1c1c1c" stroke-width="0.22">0</text>
<line x1="165.2" y1="422.66666666666663" x2="168.2" y2="422.66666666666663" stroke="#6e6e6e" stroke-width="1"/>
<text x="163.7" y="426.15866666666665" font-size="9.7" font-weight="normal" text-anchor="end" fill="#1c1c1c" stroke="#1c1c1c" stroke-width="0.22">1</text>
<line x1="165.2" y1="388.93333333333334" x2="168.2" y2="388.93333333333334" stroke="#6e6e6e" stroke-width="1"/>
<text x="163.7" y="392.42533333333336" font-size="9.7" font-weight="normal" text-anchor="end" fill="#1c1c1c" stroke="#1c1c1c" stroke-width="0.22">2</text>
<line x1="165.2" y1="355.2" x2="168.2" y2="355.2" stroke="#6e6e6e" stroke-width="1"/>
<text x="163.7" y="358.692" font-size="9.7" font-weight="normal" text-anchor="end" fill="#1c1c1c" stroke="#1c1c1c" stroke-width="0.22">3</text>
<rect x="171.80" y="422.67" width="19.40" height="33.73" fill="#0e0e0e" stroke="none" stroke-width="0"/>
<line x1="204.7" y1="419.8668" x2="204.7" y2="422.3968" stroke="#1c1c1c" stroke-width="0.9"/>
<line x1="200.7" y1="419.8668" x2="208.7" y2="419.8668" stroke="#1c1c1c" stroke-width="0.9"/>
<rect x="195.00" y="422.40" width="19.40" height="34.00" fill="#0e0e0e" stroke="none" stroke-width="0"/>
<rect x="221.70" y="422.67" width="19.30" height="33.73" fill="url(#chk)" stroke="none" stroke-width="0"/>
<rect x="221.70" y="422.67" width="19.30" height="33.73" fill="none" stroke="#444" stroke-width="0.6"/>
<line x1="255.25" y1="382.524" x2="255.25" y2="387.584" stroke="#1c1c1c" stroke-width="0.9"/>
<line x1="251.25" y1="382.524" x2="259.25" y2="382.524" stroke="#1c1c1c" stroke-width="0.9"/>
<rect x="245.50" y="387.58" width="19.50" height="68.82" fill="url(#chk)" stroke="none" stroke-width="0"/>
<rect x="245.50" y="387.58" width="19.50" height="68.82" fill="none" stroke="#444" stroke-width="0.6"/>
<text x="255.4" y="381.6275" font-size="11.5" font-weight="normal" text-anchor="middle" fill="#222" stroke="none">*</text>
<text x="191.2" y="350.4" font-size="9.5" font-weight="normal" text-anchor="middle" fill="#1c1c1c" stroke="#1c1c1c" stroke-width="0.22">Total</text>
<line x1="169.7" y1="352.6" x2="212.4" y2="352.6" stroke="#444" stroke-width="0.8"/>
<text x="243.8" y="350.4" font-size="9.5" font-weight="normal" text-anchor="middle" fill="#1c1c1c" stroke="#1c1c1c" stroke-width="0.22">NE</text>
<line x1="222.6" y1="352.6" x2="265" y2="352.6" stroke="#444" stroke-width="0.8"/>
<text x="181.5" y="468.6" font-size="9.5" font-weight="normal" text-anchor="middle" fill="#333" stroke="#333" stroke-width="0.22">(-)</text>
<text x="204.3" y="468.6" font-size="9.5" font-weight="normal" text-anchor="middle" fill="#333" stroke="#333" stroke-width="0.22">(+)</text>
<text x="231.4" y="468.6" font-size="9.5" font-weight="normal" text-anchor="middle" fill="#333" stroke="#333" stroke-width="0.22">(-)</text>
<text x="254.8" y="468.6" font-size="9.5" font-weight="normal" text-anchor="middle" fill="#333" stroke="#333" stroke-width="0.22">(+)</text>
<text x="217.8" y="482.4" font-size="9.5" font-weight="normal" text-anchor="middle" fill="#555" stroke="#555" stroke-width="0.22">Insulin (1 μg/ml)</text>
<text x="143" y="404.8" font-size="11.2" font-weight="bold" text-anchor="middle" fill="#111" transform="rotate(-90 143 404.8)" stroke="#111" stroke-width="0.15">XBP1s</text>
<text x="155.5" y="403.8" font-size="9.8" font-weight="normal" text-anchor="middle" fill="#2a2a2a" transform="rotate(-90 155.5 403.8)" stroke="#2a2a2a" stroke-width="0.22">(Protein/loading control ratio)</text>
<text x="286.0" y="345.2" font-size="13.2" font-weight="normal" text-anchor="start" fill="#111" stroke="#111" stroke-width="0.55" stroke-linejoin="round">(E)</text>
<line x1="318.3" y1="354.4" x2="318.3" y2="457.3" stroke="#4a4a4a" stroke-width="1"/>
<line x1="318.3" y1="457.3" x2="423.8" y2="457.3" stroke="#4a4a4a" stroke-width="1"/>
<line x1="318.3" y1="354.4" x2="423.8" y2="354.4" stroke="#5a5a5a" stroke-width="0.85"/>
<line x1="423.8" y1="354.4" x2="423.8" y2="457.3" stroke="#5a5a5a" stroke-width="0.85"/>
<line x1="316.0" y1="457.3" x2="318.3" y2="457.3" stroke="#6e6e6e" stroke-width="1"/>
<text x="315.6" y="461.00800000000004" font-size="10.3" font-weight="bold" text-anchor="end" fill="#1c1c1c" stroke="#1c1c1c" stroke-width="0.15">0.0</text>
<line x1="316.0" y1="436.72" x2="318.3" y2="436.72" stroke="#6e6e6e" stroke-width="1"/>
<text x="315.6" y="440.42800000000005" font-size="10.3" font-weight="bold" text-anchor="end" fill="#1c1c1c" stroke="#1c1c1c" stroke-width="0.15">0.5</text>
<line x1="316.0" y1="416.14" x2="318.3" y2="416.14" stroke="#6e6e6e" stroke-width="1"/>
<text x="315.6" y="419.848" font-size="10.3" font-weight="bold" text-anchor="end" fill="#1c1c1c" stroke="#1c1c1c" stroke-width="0.15">1.0</text>
<line x1="316.0" y1="395.56" x2="318.3" y2="395.56" stroke="#6e6e6e" stroke-width="1"/>
<text x="315.6" y="399.26800000000003" font-size="10.3" font-weight="bold" text-anchor="end" fill="#1c1c1c" stroke="#1c1c1c" stroke-width="0.15">1.5</text>
<line x1="316.0" y1="374.98" x2="318.3" y2="374.98" stroke="#6e6e6e" stroke-width="1"/>
<text x="315.6" y="378.68800000000005" font-size="10.3" font-weight="bold" text-anchor="end" fill="#1c1c1c" stroke="#1c1c1c" stroke-width="0.15">2.0</text>
<line x1="316.0" y1="354.4" x2="318.3" y2="354.4" stroke="#6e6e6e" stroke-width="1"/>
<text x="315.6" y="358.108" font-size="10.3" font-weight="bold" text-anchor="end" fill="#1c1c1c" stroke="#1c1c1c" stroke-width="0.15">2.5</text>
<rect x="325.60" y="416.14" width="18.30" height="41.16" fill="#d4d4d4" stroke="#555" stroke-width="0.7"/>
<line x1="356.1" y1="392.2672" x2="356.1" y2="395.1484" stroke="#1c1c1c" stroke-width="0.9"/>
<line x1="351.6" y1="392.2672" x2="360.6" y2="392.2672" stroke="#1c1c1c" stroke-width="0.9"/>
<rect x="347.10" y="395.15" width="18.00" height="62.15" fill="#0a0a0a" stroke="none" stroke-width="0"/>
<rect x="377.40" y="416.14" width="18.10" height="41.16" fill="#d4d4d4" stroke="#555" stroke-width="0.7"/>
<line x1="407.95" y1="393.2962" x2="407.95" y2="396.589" stroke="#1c1c1c" stroke-width="0.9"/>
<line x1="403.45" y1="393.2962" x2="412.45" y2="393.2962" stroke="#1c1c1c" stroke-width="0.9"/>
<rect x="398.90" y="396.59" width="18.10" height="60.71" fill="#0a0a0a" stroke="none" stroke-width="0"/>
<line x1="345.6" y1="457.3" x2="345.6" y2="460.3" stroke="#6e6e6e" stroke-width="1"/>
<line x1="397.3" y1="457.3" x2="397.3" y2="460.3" stroke="#6e6e6e" stroke-width="1"/>
<text x="356" y="390" font-size="7.5" font-weight="bold" text-anchor="middle" fill="#111" stroke="#111" stroke-width="0.3">#</text>
<text x="407.9" y="390" font-size="7.5" font-weight="bold" text-anchor="middle" fill="#111" stroke="#111" stroke-width="0.3">#</text>
<rect x="324.40" y="359.30" width="11.40" height="5.30" fill="#d4d4d4" stroke="#555" stroke-width="0.7"/>
<rect x="324.40" y="370.90" width="11.40" height="5.30" fill="#0a0a0a" stroke="none" stroke-width="0"/>
<text x="341.8" y="365.2" font-size="8.7" font-weight="normal" text-anchor="start" fill="#2a2a2a" stroke="#2a2a2a" stroke-width="0.22">EV</text>
<text x="341.8" y="376.7" font-size="8.7" font-weight="normal" text-anchor="start" fill="#2a2a2a" stroke="#2a2a2a" stroke-width="0.22">XBP1s</text>
<text x="346" y="469.6" font-size="9.9" font-weight="normal" text-anchor="middle" fill="#1c1c1c" stroke="#1c1c1c" stroke-width="0.22">ERdj4</text>
<text x="380.4" y="469.8" font-size="9.9" fill="#1c1c1c" stroke="#1c1c1c" stroke-width="0.2">p58<tspan dy="-4.5" font-size="7">IPK</tspan></text>
<text x="294.5" y="405.2" font-size="11.8" font-weight="bold" text-anchor="middle" fill="#111" transform="rotate(-90 294.5 405.2)" stroke="#111" stroke-width="0.15">mRNA/36B4 ratio</text>
<text x="439.2" y="345.0" font-size="13.2" font-weight="normal" text-anchor="start" fill="#111" stroke="#111" stroke-width="0.55" stroke-linejoin="round">(F)</text>
<line x1="488" y1="354.7" x2="488" y2="457.1" stroke="#4a4a4a" stroke-width="1"/>
<line x1="488" y1="457.1" x2="557.8" y2="457.1" stroke="#4a4a4a" stroke-width="1"/>
<line x1="488" y1="354.7" x2="557.8" y2="354.7" stroke="#5a5a5a" stroke-width="0.85"/>
<line x1="557.8" y1="354.7" x2="557.8" y2="457.1" stroke="#5a5a5a" stroke-width="0.85"/>
<line x1="485.7" y1="457.1" x2="488" y2="457.1" stroke="#6e6e6e" stroke-width="1"/>
<text x="485.3" y="460.80800000000005" font-size="10.3" font-weight="bold" text-anchor="end" fill="#1c1c1c" stroke="#1c1c1c" stroke-width="0.15">0.0</text>
<line x1="485.7" y1="431.5" x2="488" y2="431.5" stroke="#6e6e6e" stroke-width="1"/>
<text x="485.3" y="435.208" font-size="10.3" font-weight="bold" text-anchor="end" fill="#1c1c1c" stroke="#1c1c1c" stroke-width="0.15">0.5</text>
<line x1="485.7" y1="405.9" x2="488" y2="405.9" stroke="#6e6e6e" stroke-width="1"/>
<text x="485.3" y="409.608" font-size="10.3" font-weight="bold" text-anchor="end" fill="#1c1c1c" stroke="#1c1c1c" stroke-width="0.15">1.0</text>
<line x1="485.7" y1="380.3" x2="488" y2="380.3" stroke="#6e6e6e" stroke-width="1"/>
<text x="485.3" y="384.00800000000004" font-size="10.3" font-weight="bold" text-anchor="end" fill="#1c1c1c" stroke="#1c1c1c" stroke-width="0.15">1.5</text>
<line x1="485.7" y1="354.7" x2="488" y2="354.7" stroke="#6e6e6e" stroke-width="1"/>
<text x="485.3" y="358.408" font-size="10.3" font-weight="bold" text-anchor="end" fill="#1c1c1c" stroke="#1c1c1c" stroke-width="0.15">2.0</text>
<rect x="491.30" y="405.90" width="28.50" height="51.20" fill="url(#h1)" stroke="#777" stroke-width="0.7"/>
<line x1="505.54999999999995" y1="457.1" x2="505.54999999999995" y2="460.1" stroke="#6e6e6e" stroke-width="1"/>
<line x1="505.54999999999995" y1="397.708" x2="505.54999999999995" y2="414.092" stroke="#3a3a3a" stroke-width="0.8"/>
<line x1="497.54999999999995" y1="397.708" x2="513.55" y2="397.708" stroke="#3a3a3a" stroke-width="0.8"/>
<line x1="497.54999999999995" y1="414.092" x2="513.55" y2="414.092" stroke="#3a3a3a" stroke-width="0.8"/>
<rect x="525.50" y="436.62" width="29.30" height="20.48" fill="url(#h2)" stroke="#333" stroke-width="0.7"/>
<line x1="540.15" y1="457.1" x2="540.15" y2="460.1" stroke="#6e6e6e" stroke-width="1"/>
<line x1="540.15" y1="435.34000000000003" x2="540.15" y2="437.90000000000003" stroke="#3a3a3a" stroke-width="0.8"/>
<line x1="532.15" y1="435.34000000000003" x2="548.15" y2="435.34000000000003" stroke="#3a3a3a" stroke-width="0.8"/>
<line x1="532.15" y1="437.90000000000003" x2="548.15" y2="437.90000000000003" stroke="#3a3a3a" stroke-width="0.8"/>
<text x="540.4" y="431.3" font-size="7.5" font-weight="bold" text-anchor="middle" fill="#111" stroke="#111" stroke-width="0.3">#</text>
<text x="452.2" y="404.3" font-size="11.3" font-weight="bold" text-anchor="middle" fill="#111" transform="rotate(-90 452.2 404.3)" stroke="#111" stroke-width="0.15">XBP1s</text>
<text x="466.3" y="404" font-size="9.9" font-weight="normal" text-anchor="middle" fill="#2a2a2a" transform="rotate(-90 466.3 404)" stroke="#2a2a2a" stroke-width="0.22">(mRNA / 36B4 ratio)</text>
<text x="456" y="471.2" font-size="8.4" font-weight="bold" text-anchor="start" fill="#111" stroke="#111" stroke-width="0.15">siCon</text>
<text x="456" y="481" font-size="8.4" font-weight="bold" text-anchor="start" fill="#111" stroke="#111" stroke-width="0.15">siXbp1</text>
<text x="505.2" y="471.2" font-size="8" font-weight="bold" text-anchor="middle" fill="#1c1c1c" stroke="#111" stroke-width="0.35">+</text>
<text x="539.8" y="470" font-size="9.5" font-weight="bold" text-anchor="middle" fill="#1c1c1c" stroke="#111" stroke-width="0.35">-</text>
<text x="505.2" y="481.6" font-size="9.5" font-weight="bold" text-anchor="middle" fill="#1c1c1c" stroke="#111" stroke-width="0.35">-</text>
<text x="539.8" y="479.8" font-size="8" font-weight="bold" text-anchor="middle" fill="#1c1c1c" stroke="#111" stroke-width="0.35">+</text>
<line x1="614" y1="354.7" x2="614" y2="457.1" stroke="#4a4a4a" stroke-width="1"/>
<line x1="614" y1="457.1" x2="683.8" y2="457.1" stroke="#4a4a4a" stroke-width="1"/>
<line x1="614" y1="354.7" x2="683.8" y2="354.7" stroke="#5a5a5a" stroke-width="0.85"/>
<line x1="683.8" y1="354.7" x2="683.8" y2="457.1" stroke="#5a5a5a" stroke-width="0.85"/>
<line x1="611.7" y1="457.1" x2="614" y2="457.1" stroke="#6e6e6e" stroke-width="1"/>
<text x="611.3" y="460.80800000000005" font-size="10.3" font-weight="bold" text-anchor="end" fill="#1c1c1c" stroke="#1c1c1c" stroke-width="0.15">0.0</text>
<line x1="611.7" y1="431.5" x2="614" y2="431.5" stroke="#6e6e6e" stroke-width="1"/>
<text x="611.3" y="435.208" font-size="10.3" font-weight="bold" text-anchor="end" fill="#1c1c1c" stroke="#1c1c1c" stroke-width="0.15">0.5</text>
<line x1="611.7" y1="405.9" x2="614" y2="405.9" stroke="#6e6e6e" stroke-width="1"/>
<text x="611.3" y="409.608" font-size="10.3" font-weight="bold" text-anchor="end" fill="#1c1c1c" stroke="#1c1c1c" stroke-width="0.15">1.0</text>
<line x1="611.7" y1="380.3" x2="614" y2="380.3" stroke="#6e6e6e" stroke-width="1"/>
<text x="611.3" y="384.00800000000004" font-size="10.3" font-weight="bold" text-anchor="end" fill="#1c1c1c" stroke="#1c1c1c" stroke-width="0.15">1.5</text>
<line x1="611.7" y1="354.7" x2="614" y2="354.7" stroke="#6e6e6e" stroke-width="1"/>
<text x="611.3" y="358.408" font-size="10.3" font-weight="bold" text-anchor="end" fill="#1c1c1c" stroke="#1c1c1c" stroke-width="0.15">2.0</text>
<rect x="617.20" y="405.90" width="29.10" height="51.20" fill="url(#h1)" stroke="#777" stroke-width="0.7"/>
<line x1="631.75" y1="457.1" x2="631.75" y2="460.1" stroke="#6e6e6e" stroke-width="1"/>
<line x1="631.75" y1="400.524" x2="631.75" y2="411.276" stroke="#3a3a3a" stroke-width="0.8"/>
<line x1="623.75" y1="400.524" x2="639.75" y2="400.524" stroke="#3a3a3a" stroke-width="0.8"/>
<line x1="623.75" y1="411.276" x2="639.75" y2="411.276" stroke="#3a3a3a" stroke-width="0.8"/>
<rect x="651.60" y="433.19" width="29.20" height="23.91" fill="url(#h2)" stroke="#333" stroke-width="0.7"/>
<line x1="666.2" y1="457.1" x2="666.2" y2="460.1" stroke="#6e6e6e" stroke-width="1"/>
<line x1="666.2" y1="430.62960000000004" x2="666.2" y2="435.7496" stroke="#3a3a3a" stroke-width="0.8"/>
<line x1="658.2" y1="430.62960000000004" x2="674.2" y2="430.62960000000004" stroke="#3a3a3a" stroke-width="0.8"/>
<line x1="658.2" y1="435.7496" x2="674.2" y2="435.7496" stroke="#3a3a3a" stroke-width="0.8"/>
<text x="666.2" y="428" font-size="7.5" font-weight="bold" text-anchor="middle" fill="#111" stroke="#111" stroke-width="0.3">#</text>
<text x="577.8" y="404.3" font-size="11.3" font-weight="bold" text-anchor="middle" fill="#111" transform="rotate(-90 577.8 404.3)" stroke="#111" stroke-width="0.15">FGF21</text>
<text x="591.6" y="404" font-size="9.9" font-weight="normal" text-anchor="middle" fill="#2a2a2a" transform="rotate(-90 591.6 404)" stroke="#2a2a2a" stroke-width="0.22">(mRNA / 36B4 ratio)</text>
<text x="581.4" y="471.2" font-size="8.4" font-weight="bold" text-anchor="start" fill="#111" stroke="#111" stroke-width="0.15">siCon</text>
<text x="581.4" y="481" font-size="8.4" font-weight="bold" text-anchor="start" fill="#111" stroke="#111" stroke-width="0.15">siXbp1</text>
<text x="631.5" y="471.2" font-size="8" font-weight="bold" text-anchor="middle" fill="#1c1c1c" stroke="#111" stroke-width="0.35">+</text>
<text x="665.8" y="470" font-size="9.5" font-weight="bold" text-anchor="middle" fill="#1c1c1c" stroke="#111" stroke-width="0.35">-</text>
<text x="631.5" y="481.6" font-size="9.5" font-weight="bold" text-anchor="middle" fill="#1c1c1c" stroke="#111" stroke-width="0.35">-</text>
<text x="665.8" y="479.8" font-size="8" font-weight="bold" text-anchor="middle" fill="#1c1c1c" stroke="#111" stroke-width="0.35">+</text>
</svg></body></html>
